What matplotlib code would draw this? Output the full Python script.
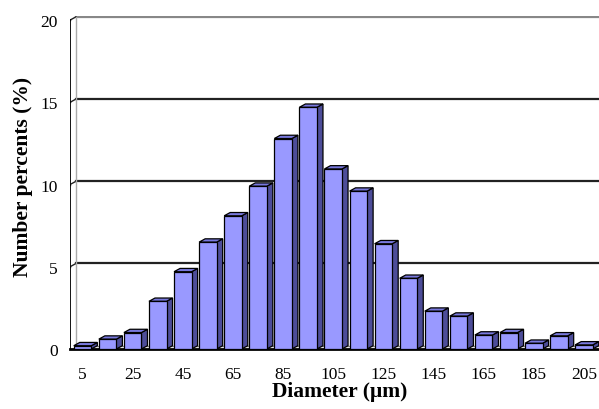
import numpy as np
import matplotlib.pyplot as plt
from matplotlib.patches import Polygon

# bar values
diameters = [5, 15, 25, 35, 45, 55, 65, 75, 85, 95, 105,
             115, 125, 135, 145, 155, 165, 175, 185, 195, 205]
percents = [0.2, 0.6, 1.0, 2.9, 4.7, 6.5, 8.1, 9.9, 12.8, 14.7, 10.95,
            9.6, 6.4, 4.3, 2.3, 2.0, 0.85, 1.0, 0.35, 0.8, 0.25]
x_ticklabels = ['5', '25', '45', '65', '85', '105', '125', '145', '165', '185', '205']
y_ticks = [0, 5, 10, 15, 20]

face = '#9999ff'
side = '#4d4d99'
top = '#7878dd'

W, H = 599, 410
fig = plt.figure(figsize=(W / 100, H / 100), dpi=100)
# axes: left at front wall (70px), bottom at floor front (350px)
ax = fig.add_axes([70 / W, (H - 350) / H, (W - 70) / W, (350 - 17) / H])
ax.set_xlim(-0.5, 20.6)
ax.set_ylim(0, 20.25)
for s in ax.spines.values():
    s.set_visible(False)

dx, dy = 0.24, 0.2   # depth offset in data units
bw = 0.7
xs = np.arange(len(diameters))

# back wall gridlines
for v in y_ticks[1:]:
    c = '#888888' if v == 20 else '#222222'
    ax.plot([-0.5 + dx, 20.6], [v + dy, v + dy], color=c, lw=1.6, zorder=1)
    # small tick on the wall front
    ax.plot([-0.5, -0.5 + dx], [v, v + dy], color='#222222', lw=1.0, zorder=2)
    ax.plot([-0.5 - 0.08, -0.5], [v, v], color='#222222', lw=1.0, zorder=2)

# left wall
ax.plot([-0.5 + dx, -0.5 + dx], [dy, 20 + dy], color='#aaaaaa', lw=1.0, zorder=2)
ax.plot([-0.5, -0.5], [0, 20], color='black', lw=1.3, zorder=2)
# floor
ax.plot([-0.5, 20.6], [0, 0], color='black', lw=2.0, zorder=2, clip_on=False)
ax.plot([-0.5 + dx, 20.6], [dy, dy], color='#888888', lw=1.0, zorder=1)

for x, v in zip(xs, percents):
    l, r = x - bw / 2, x + bw / 2
    ax.add_patch(Polygon([(r, 0), (r + dx, dy), (r + dx, v + dy), (r, v)],
                         closed=True, facecolor=side, edgecolor='black', lw=0.9, zorder=3))
    ax.add_patch(Polygon([(l, v), (r, v), (r + dx, v + dy), (l + dx, v + dy)],
                         closed=True, facecolor=top, edgecolor='black', lw=0.9, zorder=3))
ax.bar(xs, percents, width=bw, color=face, edgecolor='black', lw=0.9, zorder=4)

ax.set_xticks(xs[::2])
ax.set_xticklabels(x_ticklabels)
ax.set_yticks(y_ticks)
ax.set_yticklabels([str(v) for v in y_ticks])
ax.tick_params(length=0, labelsize=12.5)
ax.tick_params(axis='x', pad=12)
ax.tick_params(axis='y', pad=9)
for t in ax.get_xticklabels() + ax.get_yticklabels():
    t.set_fontfamily('Liberation Serif')

ax.set_xlabel('Diameter (\u03bcm)', fontfamily='Liberation Serif', fontweight='bold',
              fontsize=15.5)
ax.set_ylabel('Number percents (%)', fontfamily='Liberation Serif', fontweight='bold',
              fontsize=15.5)
ax.xaxis.set_label_coords(0.509, -0.097)
ax.yaxis.set_label_coords(-0.07, 0.52)

fig.savefig('out.png', dpi=100)
